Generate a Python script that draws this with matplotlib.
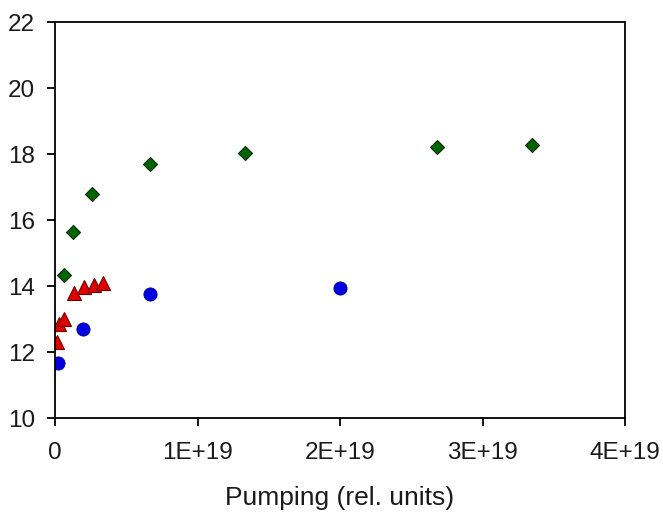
import matplotlib
matplotlib.use("Agg")
import matplotlib.pyplot as plt
from matplotlib.ticker import FixedLocator, FuncFormatter

plt.rcParams['font.family'] = ['Liberation Sans', 'DejaVu Sans']

# Pumping (rel. units) and measured values for the three series
green_x = [0.063e19, 0.126e19, 0.26e19, 0.667e19, 1.33e19, 2.68e19, 3.35e19]
green_y = [14.35, 15.65, 16.8, 17.7, 18.05, 18.22, 18.27]

red_x = [0.016e19, 0.03e19, 0.063e19, 0.13e19, 0.20e19, 0.27e19, 0.34e19]
red_y = [12.32, 12.85, 13.0, 13.8, 13.97, 14.05, 14.1]

blue_x = [0.02e19, 0.197e19, 0.667e19, 2.0e19]
blue_y = [11.68, 12.7, 13.76, 13.94]

x_ticks = [0, 1e19, 2e19, 3e19, 4e19]
x_tick_labels = ["0", "1E+19", "2E+19", "3E+19", "4E+19"]
y_ticks = [10, 12, 14, 16, 18, 20, 22]

fig = plt.figure(figsize=(6.63, 5.14), dpi=100)
ax = fig.add_axes([0.083, 0.1862, 0.8597, 0.7708])

ax.plot(green_x, green_y, linestyle='none', marker='D', markersize=7.5,
        markerfacecolor='#006400', markeredgecolor='#0a2a0a', markeredgewidth=0.8)
ax.plot(red_x, red_y, linestyle='none', marker='^', markersize=10.5,
        markerfacecolor='#e00000', markeredgecolor='#700000', markeredgewidth=0.8)
ax.plot(blue_x, blue_y, linestyle='none', marker='o', markersize=9.5,
        markerfacecolor='#0000e0', markeredgecolor='#000080', markeredgewidth=0.6)

ax.set_xlim(0, 4e19)
ax.set_ylim(10, 22)
ax.xaxis.set_major_locator(FixedLocator(x_ticks))
ax.xaxis.set_major_formatter(FuncFormatter(
    lambda v, pos: x_tick_labels[x_ticks.index(v)] if v in x_ticks else ""))
ax.yaxis.set_major_locator(FixedLocator(y_ticks))
ax.yaxis.set_major_formatter(FuncFormatter(lambda v, pos: f"{v:.0f}"))

for s in ax.spines.values():
    s.set_linewidth(1.3)
    s.set_color('black')

ax.tick_params(axis='x', direction='out', length=6, width=1.3,
               labelsize=17.5, pad=11, colors='black')
ax.tick_params(axis='y', direction='out', length=6, width=1.3,
               labelsize=17.5, pad=8.5, colors='black')
for lab in ax.get_xticklabels() + ax.get_yticklabels():
    lab.set_color('#1a1a1a')

ax.set_xlabel("Pumping (rel. units)", fontsize=19, color='#1a1a1a', labelpad=16)

fig.savefig("out.png", dpi=100)
